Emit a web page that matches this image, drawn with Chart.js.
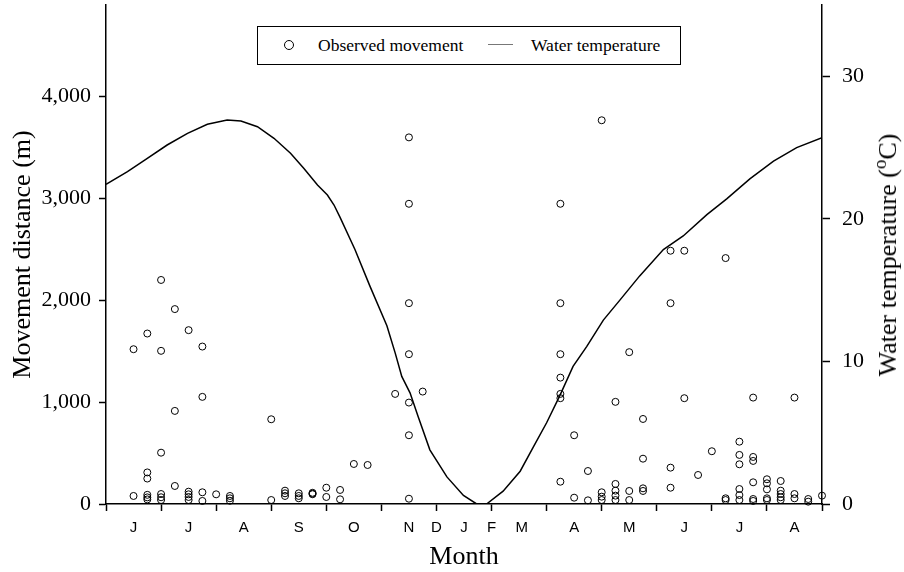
<!DOCTYPE html>
<html>
<head>
<meta charset="utf-8">
<script src="https://cdn.jsdelivr.net/npm/chart.js@4.4.1/dist/chart.umd.min.js"></script>
<style>
  html, body { margin: 0; padding: 0; background: #fff; }
  #wrap { position: relative; width: 904px; height: 572px; }
  #legend {
    position: absolute; left: 257px; top: 26px; width: 424px; height: 39px;
    box-sizing: border-box; border: 1.5px solid #000; background: #fff;
    font: 17.5px 'Liberation Serif', serif; color: #000;
  }
  #legend .dot {
    position: absolute; left: 26px; top: 13px; width: 8px; height: 8px;
    border: 1px solid #000; border-radius: 50%;
  }
  #legend .txt { position: absolute; top: 0; line-height: 36px; white-space: nowrap; }
  #legend .ln { position: absolute; left: 230px; top: 17px; width: 25px; border-top: 1.5px solid #777; }
  #rtitle {
    position: absolute; left: 888px; top: 255px; white-space: nowrap;
    font: 26px 'Liberation Serif', serif; color: #000; line-height: 26px;
    transform: translate(-50%, -50%) rotate(-90deg);
  }
  #rtitle sup { font-size: 19px; line-height: 0; }
</style>
</head>
<body>
<div id="wrap">
  <canvas id="moveChart"></canvas>
  <div id="legend">
    <span class="dot"></span>
    <span class="txt" style="left:60px">Observed movement</span>
    <span class="ln"></span>
    <span class="txt" style="left:273px">Water temperature</span>
  </div>
  <div id="rtitle">Water temperature (<sup>o</sup>C)</div>
</div>
<script>
// ─── Data ────────────────────────────────────────────
// month axis: one unit per tick interval
const monthLabels = ['J', 'J', 'A', 'S', 'O', 'N', 'D', 'J', 'F', 'M', 'A', 'M', 'J', 'J', 'A'];
const monthPos = [0.5, 1.5, 2.5, 3.5, 4.5, 5.5, 6, 6.5, 7, 7.55, 8.5, 9.5, 10.5, 11.5, 12.5];
const monthTicks = [0, 1, 2, 3, 4, 5, 6, 7, 8, 9, 10, 11, 12, 13];

const distTicks = [0, 1000, 2000, 3000, 4000];
const tempTicks = [0, 10, 20, 30];

// observed movement (m)
const moveX = [
  0.5, 0.5,
  0.75, 0.75, 0.75, 0.75, 0.75, 0.75,
  1, 1, 1, 1, 1, 1,
  1.25, 1.25, 1.25,
  1.5, 1.5, 1.5, 1.5, 1.5,
  1.75, 1.75, 1.75, 1.75,
  2,
  2.25, 2.25, 2.25,
  3, 3,
  3.25, 3.25, 3.25,
  3.5, 3.5, 3.5,
  3.75, 3.75, 3.75,
  4, 4,
  4.25, 4.25,
  4.5,
  4.75,
  5.25,
  5.5, 5.5, 5.5, 5.5, 5.5, 5.5, 5.5,
  5.75,
  8.25, 8.25, 8.25, 8.25, 8.25, 8.25, 8.25,
  8.5, 8.5,
  8.75, 8.75,
  9, 9, 9, 9,
  9.25, 9.25, 9.25, 9.25, 9.25,
  9.5, 9.5, 9.5,
  9.75, 9.75, 9.75, 9.75,
  10.25, 10.25, 10.25, 10.25,
  10.5, 10.5,
  10.75,
  11,
  11.25, 11.25, 11.25,
  11.5, 11.5, 11.5, 11.5, 11.5, 11.5,
  11.75, 11.75, 11.75, 11.75, 11.75, 11.75,
  12, 12, 12, 12, 12,
  12.25, 12.25, 12.25, 12.25, 12.25,
  12.5, 12.5, 12.5,
  12.75, 12.75,
  13
];
const moveY = [
  1520, 79,
  1674, 310, 250, 90, 65, 45,
  2200, 1504, 504, 98, 66, 39,
  1914, 914, 177,
  1707, 121, 95, 69, 39,
  1546, 1052, 115, 30,
  95,
  79, 56, 32,
  832, 39,
  131, 105, 79,
  105, 79, 56,
  110, 102, 96,
  160, 69,
  138, 46,
  393,
  383,
  1081,
  3600, 2948, 1972, 1471, 996, 675, 52,
  1104,
  2948, 1972, 1471, 1241, 1081, 1039, 219,
  675, 62,
  324, 36,
  3768, 115, 72, 39,
  1003, 197, 131, 82, 39,
  1491, 128, 39,
  835, 445, 154, 128,
  2487, 1972, 357, 160,
  2487, 1039,
  285,
  518,
  2415, 56, 39,
  612, 482, 390, 147, 88, 39,
  1045, 462, 423, 213, 49, 30,
  243, 203, 144, 56, 39,
  226, 131, 98, 66, 39,
  1045, 98, 56,
  49, 23,
  82
];

// water temperature (°C)
const tempX = [0, 0.39, 0.75, 1.11, 1.48, 1.84, 2.2, 2.45, 2.75, 3.05, 3.35, 3.59, 3.84, 4.02, 4.14,
  4.25, 4.52, 4.79, 5.1, 5.25, 5.37, 5.52, 5.67, 5.88, 6.19, 6.49, 6.73, 6.91, 7.21, 7.52,
  7.76, 8.0, 8.24, 8.48, 8.73, 9.03, 9.33, 9.69, 10.12, 10.48, 10.91, 11.27, 11.69, 12.12, 12.54, 13];
const tempY = [22.42, 23.31, 24.25, 25.18, 26.0, 26.63, 26.93, 26.86, 26.46, 25.65, 24.6, 23.55, 22.37, 21.67, 20.97,
  20.1, 17.85, 15.3, 12.5, 10.6, 8.95, 7.8, 6.1, 3.8, 1.9, 0.6, 0, 0, 0.9, 2.3,
  4.0, 5.7, 7.6, 9.65, 11.05, 12.9, 14.3, 16.0, 17.85, 18.8, 20.3, 21.4, 22.8, 24.05, 25.0, 25.7];

// ─── Chart ───────────────────────────────────────────
const SERIF = 'Liberation Serif';
const xTickVals = [...new Set(monthTicks.concat(monthPos))].sort((a, b) => a - b);

function monthLabel(v) {
  const i = monthPos.findIndex(p => Math.abs(p - v) < 1e-6);
  return i >= 0 ? monthLabels[i] : '';
}

const moveData = moveX.map((x, i) => ({ x, y: moveY[i] }));
const tempData = tempX.map((x, i) => ({ x, y: tempY[i] }));

new Chart(document.getElementById('moveChart'), {
  type: 'scatter',
  data: {
    datasets: [
      {
        type: 'line',
        label: 'Water temperature',
        data: tempData,
        yAxisID: 'yT',
        borderColor: '#000',
        borderWidth: 1.5,
        pointRadius: 0,
        tension: 0,
        fill: false
      },
      {
        type: 'scatter',
        label: 'Observed movement',
        data: moveData,
        yAxisID: 'y',
        pointStyle: 'circle',
        pointRadius: 3.5,
        borderColor: '#000',
        backgroundColor: 'rgba(0,0,0,0)',
        borderWidth: 1,
        clip: false
      }
    ]
  },
  options: {
    responsive: true,
    maintainAspectRatio: false,
    animation: false,
    layout: { padding: { top: 5, left: 0, right: 0, bottom: 0 } },
    plugins: {
      legend: { display: false },
      tooltip: { enabled: false }
    },
    scales: {
      x: {
        type: 'linear',
        position: 'bottom',
        min: 0,
        max: 13,
        afterBuildTicks: s => { s.ticks = xTickVals.map(v => ({ value: v })); },
        afterFit: s => { s.height = 68; s.paddingLeft = 0; s.paddingRight = 0; },
        ticks: {
          autoSkip: false,
          maxRotation: 0,
          callback: v => monthLabel(v),
          font: { family: 'Liberation Sans', size: 15 },
          color: '#000',
          padding: 8
        },
        grid: {
          drawOnChartArea: false,
          tickLength: 7,
          tickWidth: 1.5,
          tickColor: c => (c.tick && Number.isInteger(c.tick.value)) ? '#000' : 'rgba(0,0,0,0)'
        },
        border: { color: '#000', width: 1.5 },
        title: {
          display: true,
          text: 'Month',
          color: '#000',
          font: { family: SERIF, size: 26, lineHeight: 1 },
          padding: { top: 0, bottom: 2 }
        }
      },
      y: {
        type: 'linear',
        position: 'left',
        min: 0,
        max: 4900,
        afterBuildTicks: s => { s.ticks = distTicks.map(v => ({ value: v })); },
        afterFit: s => { s.width = 106; s.paddingTop = 0; s.paddingBottom = 0; },
        ticks: {
          callback: v => v.toLocaleString('en-US'),
          font: { family: SERIF, size: 22 },
          color: '#000',
          padding: 8
        },
        grid: { drawOnChartArea: false, tickLength: 7, tickWidth: 1.5, tickColor: '#000' },
        border: { color: '#000', width: 1.5 },
        title: {
          display: true,
          text: 'Movement distance (m)',
          color: '#000',
          font: { family: SERIF, size: 26, lineHeight: 1 },
          padding: { top: 10, bottom: 0 }
        }
      },
      yT: {
        type: 'linear',
        position: 'right',
        min: 0,
        max: 35,
        afterBuildTicks: s => { s.ticks = tempTicks.map(v => ({ value: v })); },
        afterFit: s => { s.width = 82; s.paddingTop = 0; s.paddingBottom = 0; },
        ticks: {
          font: { family: SERIF, size: 22 },
          color: '#000',
          padding: 12
        },
        grid: { drawOnChartArea: false, tickLength: 8, tickWidth: 1.5, tickColor: '#000' },
        border: { color: '#000', width: 1.5 }
      }
    }
  }
});
</script>
</body>
</html>
